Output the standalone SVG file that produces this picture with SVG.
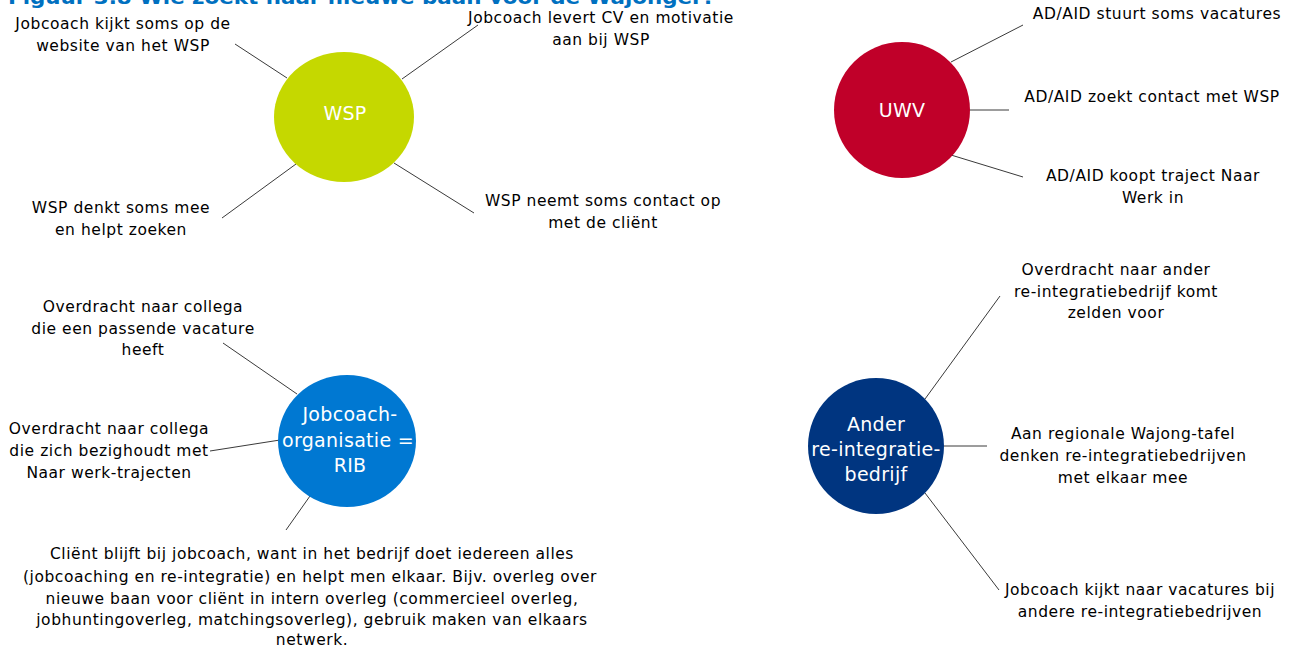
<svg xmlns="http://www.w3.org/2000/svg" width="1293" height="648" viewBox="0 0 1293 648">
<style>
.lbl{font-family:"DejaVu Sans",Verdana,sans-serif;font-size:15.5px;letter-spacing:0.55px;fill:#000;text-anchor:middle;dominant-baseline:central}
.nt{font-family:"DejaVu Sans",Verdana,sans-serif;font-size:19px;letter-spacing:0.3px;fill:#fff;text-anchor:middle;dominant-baseline:central}
.ttl{font-family:"DejaVu Sans",Verdana,sans-serif;font-size:20px;font-weight:bold;fill:#0070C0}
.c line{stroke:#3a3a3a;stroke-width:1}
</style>
<rect width="1293" height="648" fill="#fff"/>
<text class="ttl" x="8" y="4" textLength="707" lengthAdjust="spacingAndGlyphs">Figuur 3.8 Wie zoekt naar nieuwe baan voor de Wajonger?</text>
<g id="connectors" class="c">
<line x1="235" y1="44" x2="287" y2="78"/>
<line x1="402" y1="79" x2="478" y2="25"/>
<line x1="222" y1="218" x2="296" y2="164"/>
<line x1="394" y1="163" x2="474" y2="213"/>
<line x1="951" y1="62" x2="1023" y2="25"/>
<line x1="970" y1="110" x2="1009" y2="110"/>
<line x1="951" y1="155" x2="1023" y2="177"/>
<line x1="223" y1="343" x2="297" y2="394"/>
<line x1="210" y1="451" x2="280" y2="440"/>
<line x1="286" y1="530" x2="310" y2="496"/>
<line x1="925" y1="399" x2="1000" y2="296"/>
<line x1="944" y1="446" x2="987" y2="446"/>
<line x1="925" y1="493" x2="999" y2="590"/>
</g>
<g id="wsp">
<ellipse cx="344" cy="117" rx="70" ry="65" fill="#C5D800"/>
<text class="nt" x="345" y="113">WSP</text>
</g>
<g id="wsp-l1"><text class="lbl" x="123" y="24">Jobcoach kijkt soms op de</text><text class="lbl" x="123" y="46">website van het WSP</text></g>
<g id="wsp-l2"><text class="lbl" x="601" y="18">Jobcoach levert CV en motivatie</text><text class="lbl" x="601" y="40">aan bij WSP</text></g>
<g id="wsp-l3"><text class="lbl" x="121" y="208">WSP denkt soms mee</text><text class="lbl" x="121" y="230">en helpt zoeken</text></g>
<g id="wsp-l4"><text class="lbl" x="603" y="201">WSP neemt soms contact op</text><text class="lbl" x="603" y="223">met de cliënt</text></g>
<g id="uwv">
<circle cx="902" cy="110" r="68" fill="#C00029"/>
<text class="nt" x="902" y="110">UWV</text>
</g>
<g id="uwv-l1"><text class="lbl" x="1157" y="14">AD/AID stuurt soms vacatures</text></g>
<g id="uwv-l2"><text class="lbl" x="1152" y="97">AD/AID zoekt contact met WSP</text></g>
<g id="uwv-l3"><text class="lbl" x="1153" y="176">AD/AID koopt traject Naar</text><text class="lbl" x="1153" y="198">Werk in</text></g>
<g id="rib">
<ellipse cx="347" cy="441" rx="69" ry="66" fill="#0078D2"/>
<text class="nt" x="350" y="414">Jobcoach-</text>
<text class="nt" x="348" y="440">organisatie =</text>
<text class="nt" x="350" y="465">RIB</text>
</g>
<g id="rib-l1"><text class="lbl" x="143" y="307">Overdracht naar collega</text><text class="lbl" x="143" y="329">die een passende vacature</text><text class="lbl" x="143" y="350">heeft</text></g>
<g id="rib-l2"><text class="lbl" x="109" y="429">Overdracht naar collega</text><text class="lbl" x="109" y="451">die zich bezighoudt met</text><text class="lbl" x="109" y="473">Naar werk-trajecten</text></g>
<g id="rib-l3">
<text class="lbl" x="312" y="554">Cliënt blijft bij jobcoach, want in het bedrijf doet iedereen alles</text>
<text class="lbl" x="310" y="577">(jobcoaching en re-integratie) en helpt men elkaar. Bijv. overleg over</text>
<text class="lbl" x="312" y="599">nieuwe baan voor cliënt in intern overleg (commercieel overleg,</text>
<text class="lbl" x="312" y="620">jobhuntingoverleg, matchingsoverleg), gebruik maken van elkaars</text>
<text class="lbl" x="312" y="640">netwerk.</text>
</g>
<g id="ander">
<circle cx="876" cy="446" r="68" fill="#003580"/>
<text class="nt" x="876" y="424">Ander</text>
<text class="nt" x="876" y="449">re-integratie-</text>
<text class="nt" x="876" y="474">bedrijf</text>
</g>
<g id="ander-l1"><text class="lbl" x="1116" y="270">Overdracht naar ander</text><text class="lbl" x="1116" y="292">re-integratiebedrijf komt</text><text class="lbl" x="1116" y="313">zelden voor</text></g>
<g id="ander-l2"><text class="lbl" x="1123" y="434">Aan regionale Wajong-tafel</text><text class="lbl" x="1123" y="456">denken re-integratiebedrijven</text><text class="lbl" x="1123" y="478">met elkaar mee</text></g>
<g id="ander-l3"><text class="lbl" x="1140" y="590">Jobcoach kijkt naar vacatures bij</text><text class="lbl" x="1140" y="612">andere re-integratiebedrijven</text></g>
</svg>
